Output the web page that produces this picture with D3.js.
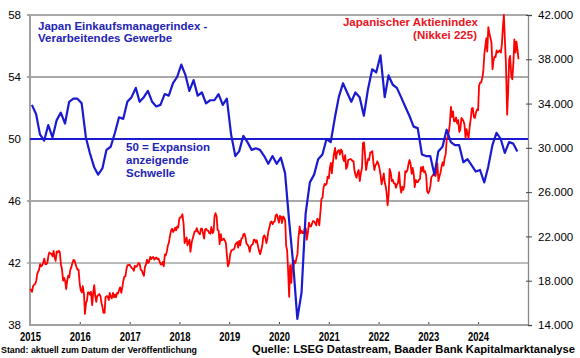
<!DOCTYPE html>
<html><head><meta charset="utf-8">
<script src="https://cdn.jsdelivr.net/npm/d3@7/dist/d3.min.js"></script>
<style>body{margin:0;background:#fff}svg{display:block;font-family:"Liberation Sans",Arial,sans-serif}</style>
</head><body><svg id="c" width="580" height="358"></svg>
<script>
// ---- data ----
const years = [2015,2016,2017,2018,2019,2020,2021,2022,2023,2024];
const pmiTicks = [38,42,46,50,54,58];
const nikkeiTicks = [14000,18000,22000,26000,30000,34000,38000,42000];
// Japan manufacturing PMI, monthly Jan 2015 - Oct 2024
const pmi = [
52.2,51.6,50.3,49.9,50.9,50.1,51.2,51.7,51.0,52.4,52.6,52.6,
52.3,50.1,49.1,48.2,47.7,48.1,49.3,49.5,50.4,51.4,51.3,52.4,
52.7,53.3,52.4,52.7,53.1,52.4,52.1,52.2,52.9,52.8,53.6,54.0,
54.8,54.1,53.1,53.8,52.8,53.0,52.3,52.5,52.5,52.9,52.2,52.6,
50.3,48.9,49.2,50.2,49.8,49.3,49.4,49.3,48.9,48.4,48.9,48.4,
48.8,47.8,44.8,41.9,38.4,40.1,45.2,47.2,47.7,48.7,49.0,50.0,
49.8,51.4,52.7,53.6,53.0,52.4,53.0,52.7,51.5,53.2,54.5,54.3,
55.4,52.7,54.1,53.5,53.3,52.7,52.1,51.5,50.8,50.7,49.0,48.9,
48.9,47.7,49.2,49.5,50.6,49.8,49.6,49.6,48.5,48.7,48.3,47.9,
48.0,47.2,48.2,49.6,50.4,50.0,49.1,49.8,49.7,49.2];
// Nikkei 225, roughly weekly (1st, 8th, 16th, 23rd of each month), Jan 2015 - Oct 2024
const nikkeiDays = [1,8,16,23];
const nikkei = [
// 2015
17100,17200,17000,17500, 17650,17700,18000,18600, 18800,18970,19500,19300, 19400,19650,20000,19500,
19500,19600,20250,20550, 20450,20400,20200,20700, 20100,19800,20650,20550, 20700,20550,19450,19100,
18000,18250,18000,17250, 18000,18450,18300,18950, 19250,19600,19880,19850, 19500,19230,18990,19000,
// 2016
17700,17150,16950,17500, 16800,15000,16000,16200, 16950,16950,16750,17000, 15800,16850,17600,16700,
16100,16600,16700,16800, 16600,16000,15600,15100, 15100,16500,16600,16600, 16250,16900,16550,16400,
16900,16500,16750,16500, 16900,16850,17200,17400, 16900,17400,18000,18350, 18400,19000,19400,19400,
// 2017
19450,19300,19150,19100, 18900,19350,19250,19300, 19450,19600,19500,19000, 18900,18650,18450,19250,
19450,19900,19600,19700, 20150,19950,20100,20150, 19900,20050,20100,19950, 20000,19750,19500,19450,
19700,19300,20350,20300, 20650,21150,21450,22000, 22550,22700,22400,22550, 22800,22550,22900,22800,
// 2018
23650,23700,23800,24000, 23100,21400,21700,21900, 21200,21450,21700,20600, 21450,21800,22150,22450,
22450,22750,22450,22300, 22200,22700,22700,22300, 21800,22600,22700,22550, 22500,22300,22250,22850,
22300,22400,23850,24100, 23800,22600,22500,21300, 22200,21650,21700,21800, 21600,21400,20200,19300,
// 2019
19600,20350,20700,20800, 20800,20900,21300,21400, 21500,21000,21600,21200, 21800,21850,22200,22250,
21900,21350,21250,21100, 20600,21100,21250,21300, 21700,21700,21450,21650, 21100,20700,20400,20700,
21200,21950,22100,21900, 21400,21800,22500,22800, 23300,23350,23100,23300, 23350,23900,24000,23700,
// 2020
23250,23850,23800,23200, 23800,23700,23400,21150, 20750,19000,16550,19400, 17800,19500,19250,19800,
19600,20000,20400,21900, 22900,22300,22500,22300, 22300,22700,22750,21700, 22400,23250,22900,22900,
23200,23400,23350,23200, 23000,23600,23500,23000, 24300,25400,25500,26400, 26750,26650,26750,27400,
// 2021
27250,28150,28650,27700, 28800,29500,30000,29000, 29500,29700,29800,29400, 29850,29700,29000,28800,
29350,28100,28300,28900, 28950,29000,28950,28800, 28800,27950,27550,27300, 27800,28000,27000,27600,
28200,30400,30500,29450, 28000,28500,29000,28900, 29600,29600,29700,28750, 28000,28400,28550,28790,
// 2022
28500,28100,27500,26700, 27200,27700,26800,26500, 25900,24800,25800,28100, 27700,27000,27100,26800,
26800,26400,26700,26800, 27800,26600,25950,26500, 26200,26500,27900,27800, 28000,28500,28900,28600,
27650,28200,27600,26450, 27100,26900,26900,27100, 27200,28250,27900,28300, 27800,27900,27500,26100,
// 2023
25900,26100,26550,27350, 27500,27650,27500,27450, 27900,28600,27000,27400, 27800,28300,28700,28400,
29150,29400,30800,31000, 31500,32250,33700,32800, 33300,32400,32400,32750, 32200,32500,31450,31650,
32700,32600,32400,32100, 30900,31700,31200,30900, 32000,32600,33550,33600, 32800,32700,33150,33450,
// 2024
33400,35600,35900,35900, 36300,36900,38500,39200, 39900,38700,40900,40400, 39900,39500,37100,37900,
38250,38200,38800,38600, 38700,38800,38600,39300, 40900,42000,39600,37700, 33000,35000,38000,38300,
36400,36200,37700,39800, 38600,39600,38900,38000];

// ---- chart ----
const svg = d3.select("#c");
const L = 30, R = 528, T = 15, B = 325;
const x = d3.scaleTime().domain([new Date(2015,0,1), new Date(2025,0,1)]).range([L,R]);
const yL = d3.scaleLinear().domain([38,58]).range([B,T]);
const yR = d3.scaleLinear().domain([14000,42000]).range([B,T]);
const blue = "#1a1ad0", red = "#ff0000", textBlue = "#2323b4";
const de = d3.formatLocale({decimal:",", thousands:".", grouping:[3], currency:["","€"]});

// gridlines
svg.append("g").selectAll("line").data(pmiTicks.filter(d => d !== 38 && d !== 50)).join("line")
  .attr("x1", L-3).attr("x2", R).attr("y1", d => yL(d)).attr("y2", d => yL(d))
  .attr("stroke", d => d === 42 ? "#a6a6a6" : "#555")
  .attr("stroke-width", d => d === 42 ? 1.6 : 1);

// left labels
svg.append("g").selectAll("text").data(pmiTicks).join("text")
  .attr("x", 21).attr("y", d => yL(d) + 4).attr("text-anchor", "end")
  .attr("font-size", 11.5).attr("fill", "#000").text(d => d);

// right axis
const ra = svg.append("g").attr("transform", `translate(${R},0)`)
  .call(d3.axisRight(yR).tickValues(nikkeiTicks).tickSize(4).tickPadding(6).tickFormat(de.format(",.0f")));
ra.select(".domain").attr("stroke", "#888").attr("stroke-width", 1.3);
ra.selectAll(".tick line").attr("stroke", "#444").attr("x1", -2);
ra.selectAll("text").attr("font-size", 11.5).attr("fill", "#000").attr("font-family", "Liberation Sans, Arial, sans-serif");

// bottom axis
const ba = svg.append("g").attr("transform", `translate(0,${B})`)
  .call(d3.axisBottom(x).tickValues(years.map(y => new Date(y,0,1))).tickSize(3).tickPadding(4).tickFormat(d3.timeFormat("%Y")));
ba.select(".domain").remove();
ba.selectAll(".tick line").attr("stroke", "#444").attr("y1", -3).attr("y2", 1);
ba.selectAll("text").attr("font-size", 12).attr("font-weight", "bold").attr("fill", "#000")
  .attr("font-family", "Liberation Sans, Arial, sans-serif")
  .attr("textLength", 21).attr("lengthAdjust", "spacingAndGlyphs");

// axis lines
svg.append("line").attr("x1", L).attr("x2", L).attr("y1", T).attr("y2", B+1).attr("stroke", "#a0a0a0").attr("stroke-width", 2);
svg.append("line").attr("x1", L-1).attr("x2", R).attr("y1", B).attr("y2", B).attr("stroke", "#a0a0a0").attr("stroke-width", 2);

// 50 line
svg.append("line").attr("x1", L).attr("x2", R).attr("y1", yL(50)).attr("y2", yL(50)).attr("stroke", blue).attr("stroke-width", 2);

// Nikkei line
const nDates = nikkei.map((v,i) => new Date(2015, Math.floor(i/4), nikkeiDays[i % 4]));
svg.append("path").datum(nikkei)
  .attr("fill", "none").attr("stroke", red).attr("stroke-width", 1.8).attr("stroke-linejoin", "round")
  .attr("d", d3.line().x((d,i) => x(nDates[i])).y(d => yR(d)));

// PMI line
const pDates = pmi.map((v,i) => new Date(2015, i, 15));
svg.append("path").datum(pmi)
  .attr("fill", "none").attr("stroke", blue).attr("stroke-width", 2.2).attr("stroke-linejoin", "round")
  .attr("d", d3.line().x((d,i) => x(pDates[i])).y(d => yL(d)));

// labels
const tb = svg.append("g").attr("font-weight", "bold").attr("font-size", 11.5).attr("fill", textBlue);
tb.append("text").attr("x", 38).attr("y", 30).text("Japan Einkaufsmanagerindex -");
tb.append("text").attr("x", 38).attr("y", 42).text("Verarbeitendes Gewerbe");
tb.append("text").attr("x", 126).attr("y", 151).text("50 = Expansion");
tb.append("text").attr("x", 126).attr("y", 164).text("anzeigende");
tb.append("text").attr("x", 126).attr("y", 177).text("Schwelle");

const tr = svg.append("g").attr("font-weight", "bold").attr("font-size", 11.5).attr("fill", "#e8141e").attr("text-anchor", "end");
tr.append("text").attr("x", 478).attr("y", 26).text("Japanischer Aktienindex");
tr.append("text").attr("x", 477).attr("y", 39).text("(Nikkei 225)");

svg.append("text").attr("x", 1).attr("y", 353).attr("font-size", 9.5).attr("font-weight", "bold")
  .attr("textLength", 196).attr("lengthAdjust", "spacingAndGlyphs").text("Stand: aktuell zum Datum der Veröffentlichung");
svg.append("text").attr("x", 252).attr("y", 353).attr("font-size", 10.5).attr("font-weight", "bold")
  .attr("textLength", 323).attr("lengthAdjust", "spacingAndGlyphs").text("Quelle: LSEG Datastream, Baader Bank Kapitalmarktanalyse");
</script></body></html>
